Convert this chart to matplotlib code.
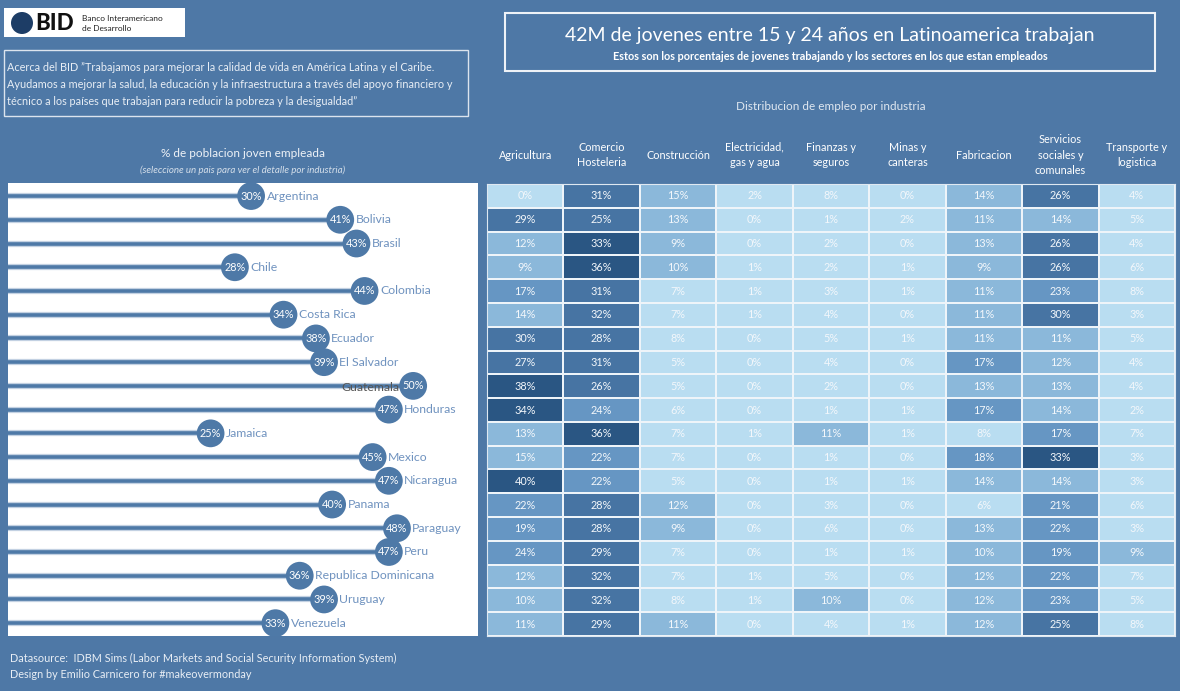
import matplotlib
matplotlib.use('Agg')
import matplotlib.pyplot as plt
import numpy as np
from matplotlib.colors import ListedColormap, BoundaryNorm
from matplotlib.patches import Rectangle, Circle

plt.rcParams['font.family'] = ['Lato', 'DejaVu Sans']

# Datos
countries = ['Argentina', 'Bolivia', 'Brasil', 'Chile', 'Colombia', 'Costa Rica',
             'Ecuador', 'El Salvador', 'Guatemala', 'Honduras', 'Jamaica', 'Mexico',
             'Nicaragua', 'Panama', 'Paraguay', 'Peru', 'Republica Dominicana',
             'Uruguay', 'Venezuela']
empleo = [30, 41, 43, 28, 44, 34, 38, 39, 50, 47, 25, 45, 47, 40, 48, 47, 36, 39, 33]

industries = ['Agricultura', 'Comercio\nHosteleria', 'Construcción',
              'Electricidad,\ngas y agua', 'Finanzas y\nseguros', 'Minas y\ncanteras',
              'Fabricacion', 'Servicios\nsociales y\ncomunales', 'Transporte y\nlogistica']
agricultura = [0, 29, 12, 9, 17, 14, 30, 27, 38, 34, 13, 15, 40, 22, 19, 24, 12, 10, 11]
comercio = [31, 25, 33, 36, 31, 32, 28, 31, 26, 24, 36, 22, 22, 28, 28, 29, 32, 32, 29]
construccion = [15, 13, 9, 10, 7, 7, 8, 5, 5, 6, 7, 7, 5, 12, 9, 7, 7, 8, 11]
electricidad = [2, 0, 0, 1, 1, 1, 0, 0, 0, 0, 1, 0, 0, 0, 0, 0, 1, 1, 0]
finanzas = [8, 1, 2, 2, 3, 4, 5, 4, 2, 1, 11, 1, 1, 3, 6, 1, 5, 10, 4]
minas = [0, 2, 0, 1, 1, 0, 1, 0, 0, 1, 1, 0, 1, 0, 0, 1, 0, 0, 1]
fabricacion = [14, 11, 13, 9, 11, 11, 11, 17, 13, 17, 8, 18, 14, 6, 13, 10, 12, 12, 12]
servicios = [26, 14, 26, 26, 23, 30, 11, 12, 13, 14, 17, 33, 14, 21, 22, 19, 22, 23, 25]
transporte = [4, 5, 4, 6, 8, 3, 5, 4, 4, 2, 7, 3, 3, 6, 3, 9, 7, 5, 8]

BG = '#4e78a6'
BLUE = '#4e79a7'
W, H = 1180, 691


def box(x0, y0, x1, y1):
    return [x0 / W, 1 - y1 / H, (x1 - x0) / W, (y1 - y0) / H]


fig = plt.figure(figsize=(W / 100, H / 100), dpi=100, facecolor=BG)

# capa para textos y cajas, en pixeles
ov = fig.add_axes([0, 0, 1, 1])
ov.set_xlim(0, W)
ov.set_ylim(H, 0)
ov.axis('off')

# logo
ov.add_patch(Rectangle((4, 8), 181, 29, facecolor='white', edgecolor='none'))
ov.add_patch(Circle((22, 23), 11, facecolor='#1d3d66', edgecolor='none'))
ov.text(35, 23, 'BID', fontsize=16, fontweight='black', color='#111111', va='center', ha='left')
ov.text(82, 18, 'Banco Interamericano', fontsize=6, color='#222222', va='center')
ov.text(82, 28, 'de Desarrollo', fontsize=6, color='#222222', va='center')

# acerca del BID
ov.add_patch(Rectangle((4, 50), 464, 66, facecolor='none', edgecolor='#dce4ee', lw=1))
about = ['Acerca del BID \u201dTrabajamos para mejorar la calidad de vida en América Latina y el Caribe.',
         'Ayudamos a mejorar la salud, la educación y la infraestructura a través del apoyo financiero y',
         'técnico a los países que trabajan para reducir la pobreza y la desigualdad\u201d']
for i, line in enumerate(about):
    ov.text(7, 67 + 17 * i, line, fontsize=7.8, color='#e8eef5', va='center', ha='left')

# titulo
ov.add_patch(Rectangle((505, 13), 650, 58, facecolor='none', edgecolor='#eef2f7', lw=1.5))
ov.text(830, 35, '42M de jovenes entre 15 y 24 años en Latinoamerica trabajan',
        fontsize=14, color='white', ha='center', va='center')
ov.text(830, 56, 'Estos son los porcentajes de jovenes trabajando y los sectores en los que estan empleados',
        fontsize=7.8, color='white', fontweight='bold', ha='center', va='center')

ov.text(831, 106, 'Distribucion de empleo por industria', fontsize=8.5, color='#dfe7f0',
        ha='center', va='center')

ov.text(243, 153, '% de poblacion joven empleada', fontsize=8.5, color='#eef2f7',
        ha='center', va='center')
ov.text(243, 170, '(seleccione un pais para ver el detalle por industria)', fontsize=7,
        color='#d5dfea', style='italic', ha='center', va='center')

# cabeceras de columnas
hx0, hx1 = 487, 1175
cw = (hx1 - hx0) / len(industries)
for i, name in enumerate(industries):
    ov.text(hx0 + cw * (i + 0.5), 155, name, fontsize=7.8, color='white',
            ha='center', va='center', linespacing=1.55)

ov.text(10, 658, 'Datasource:  IDBM Sims (Labor Markets and Social Security Information System)',
        fontsize=7.8, color='#e8eef5', va='center')
ov.text(10, 675, 'Design by Emilio Carnicero for #makeovermonday', fontsize=7.8,
        color='#e8eef5', va='center')

# lollipop
ax = fig.add_axes(box(8, 183, 478, 636))
ax.set_facecolor('white')
n = len(countries)
y = np.arange(n)
ax.set_xlim(0, 58)
ax.set_ylim(n - 0.46, -0.55)
ax.hlines(y, 0, empleo, color='#c3d1e2', lw=4.5, zorder=1)
ax.hlines(y, 0, empleo, color=BLUE, lw=2.6, zorder=1.5)
ax.scatter(empleo, y, s=400, color=BLUE, zorder=3, edgecolors='none')
for yi, v, c in zip(y, empleo, countries):
    ax.text(v, yi, f'{v}%', fontsize=7.8, color='white', ha='center', va='center', zorder=4)
    if v >= 50:
        # no cabe a la derecha: va a la izquierda del circulo
        ax.text(v - 1.7, yi + 0.08, c, fontsize=8.8, color='#555555', ha='right',
                va='center', zorder=2)
    else:
        ax.text(v + 1.9, yi, c, fontsize=8.8, color='#6f92bf', ha='left', va='center', zorder=4)
for s in ax.spines.values():
    s.set_visible(False)
ax.set_xticks([])
ax.set_yticks([])

# heatmap
hm = np.array([agricultura, comercio, construccion, electricidad, finanzas, minas,
               fabricacion, servicios, transporte]).T
cmap = ListedColormap(['#b9ddf1', '#8bb8da', '#6696c3', '#4774a3', '#2a5683'])
norm = BoundaryNorm([0, 8.5, 16, 24.5, 32.5, 41], cmap.N)
ax2 = fig.add_axes(box(hx0, 184, hx1, 636))
ax2.pcolormesh(hm, cmap=cmap, norm=norm, edgecolors='#eef4f9', linewidth=1.3)
ax2.set_xlim(0, hm.shape[1])
ax2.set_ylim(hm.shape[0], 0)
for r in range(hm.shape[0]):
    for c in range(hm.shape[1]):
        ax2.text(c + 0.5, r + 0.5, f'{hm[r, c]}%', fontsize=7.8, color='#f3f7fb',
                 ha='center', va='center')
for s in ax2.spines.values():
    s.set_edgecolor('#dfe8f1')
ax2.set_xticks([])
ax2.set_yticks([])

fig.savefig('out.png', dpi=100, facecolor=BG)
